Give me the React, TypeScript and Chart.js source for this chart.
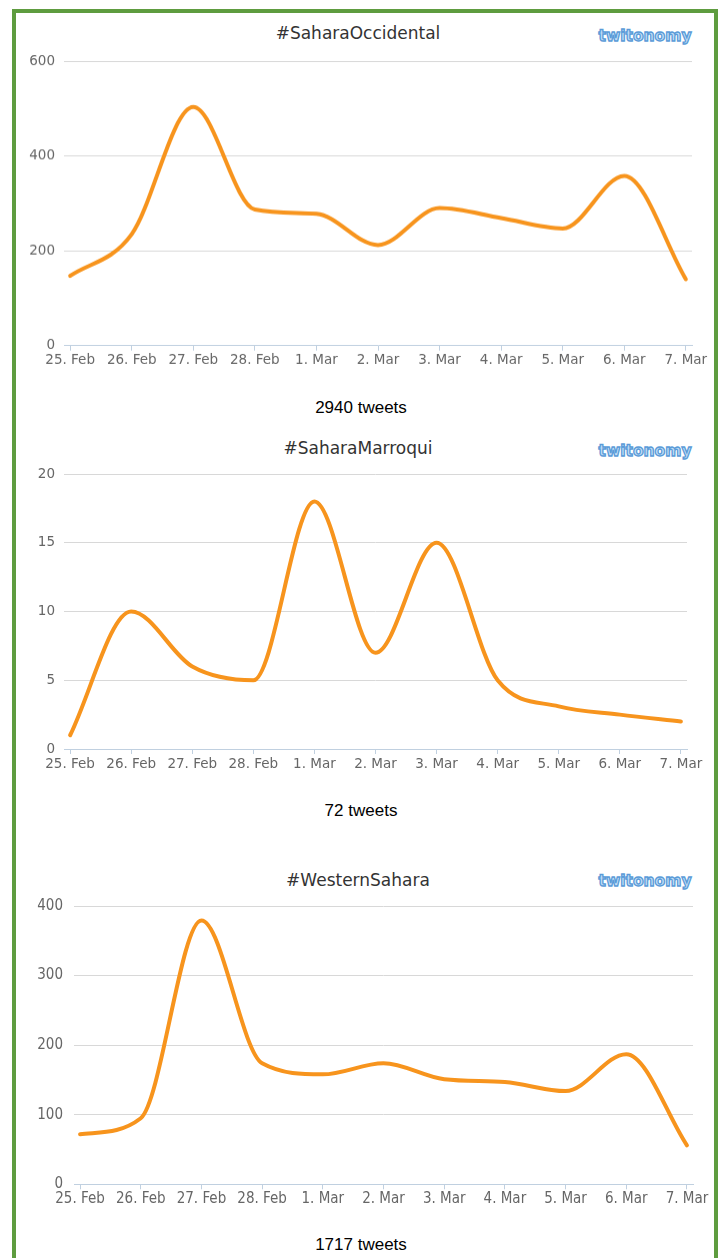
import React, { useEffect, useRef } from "react";
import { Chart, registerables } from "chart.js";

Chart.register(...registerables);

const categories = ["25. Feb", "26. Feb", "27. Feb", "28. Feb", "1. Mar", "2. Mar", "3. Mar", "4. Mar", "5. Mar", "6. Mar", "7. Mar"];
const saharaOccidental = [147, 235, 503, 287, 278, 212, 290, 269, 247, 358, 140];
const saharaMarroqui = [1, 10, 6, 5, 18, 7, 15, 5, 3.1, 2.5, 2];
const westernSahara = [72, 95, 379, 174, 158, 174, 151, 147, 134, 187, 56];

const titles = ["#SaharaOccidental", "#SaharaMarroqui", "#WesternSahara"];
const totals = ["2940 tweets", "72 tweets", "1717 tweets"];
const yMaxes = [600, 20, 400];
const ySteps = [200, 5, 100];

type Geo = { left: number; right: number; top: number; bottom: number; yPad: number; font: string; size: number; weight: string; xPad: number };

const PAD_TOP = 20;
const XH = 40;

function LineChart({ values, yMax, yStep, geo }: { values: number[]; yMax: number; yStep: number; geo: Geo }) {
  const ref = useRef<HTMLCanvasElement | null>(null);
  useEffect(() => {
    if (!ref.current) return;
    const font = { family: geo.font, size: geo.size, weight: geo.weight as any };
    const chart = new Chart(ref.current, {
      type: "line",
      data: {
        datasets: [
          {
            data: values.map((v, i) => ({ x: i, y: v })),
            borderColor: "#F7941D",
            borderWidth: 4,
            pointRadius: 0,
            fill: false,
            cubicInterpolationMode: "monotone",
            borderCapStyle: "round",
            borderJoinStyle: "round",
          },
        ],
      },
      options: {
        animation: false,
        responsive: true,
        maintainAspectRatio: false,
        layout: { padding: { top: PAD_TOP, left: 0, right: 720 - geo.right, bottom: 0 } },
        plugins: { legend: { display: false }, title: { display: false }, tooltip: { enabled: false } },
        scales: {
          x: {
            type: "linear",
            min: -0.1,
            max: 10.1,
            afterFit: (s: any) => {
              s.height = XH;
            },
            ticks: {
              stepSize: 1,
              includeBounds: false,
              autoSkip: false,
              maxRotation: 0,
              minRotation: 0,
              color: "#666",
              padding: geo.xPad,
              font,
              callback: (v: any) => (Number.isInteger(v) ? categories[v] : ""),
            },
            grid: { drawOnChartArea: false, drawTicks: true, tickLength: 5, color: "#C0D0E0" },
            border: { display: true, color: "#C0D0E0", width: 1 },
          },
          y: {
            min: 0,
            max: yMax,
            afterFit: (s: any) => {
              s.width = geo.left;
            },
            ticks: {
              stepSize: yStep,
              color: "#666",
              padding: geo.yPad,
              font,
            },
            grid: {
              drawTicks: false,
              color: (c: any) => (c.tick && c.tick.value === 0 ? "rgba(0,0,0,0)" : "#D8D8D8"),
            },
            border: { display: false },
          },
        },
      },
    });
    return () => chart.destroy();
  }, []);
  const h = geo.bottom - geo.top + PAD_TOP + XH;
  return (
    <div style={{ position: "absolute", left: 0, top: geo.top - PAD_TOP, width: 720, height: h }}>
      <canvas ref={ref} />
    </div>
  );
}

function Text({ x, y, children, style }: { x: number; y: number; children: any; style: any }) {
  return (
    <div
      style={{
        position: "absolute",
        left: x,
        top: y,
        transform: "translate(-50%, -50%)",
        whiteSpace: "nowrap",
        lineHeight: 1,
        ...style,
      }}
    >
      {children}
    </div>
  );
}

const normalFont = "'DejaVu Sans', sans-serif";

const geos: Geo[] = [
  { left: 64, right: 692, top: 61, bottom: 344.7, yPad: 9, font: normalFont, size: 13.5, weight: "normal", xPad: 2 },
  { left: 64, right: 687, top: 474.3, bottom: 749.3, yPad: 9, font: normalFont, size: 13.5, weight: "normal", xPad: 2 },
  { left: 74, right: 693, top: 905.7, bottom: 1184, yPad: 11, font: normalFont, size: 15, weight: "normal condensed", xPad: 1 },
];
const titleY = [33, 448, 880];
const totalY = [407, 810, 1244];
const logoY = [37, 452, 882];
const series = [saharaOccidental, saharaMarroqui, westernSahara];

export default function App() {
  return (
    <div style={{ position: "absolute", left: 0, top: 0, width: 720, height: 1258, background: "#fff", overflow: "hidden" }}>
      <div
        style={{
          position: "absolute",
          left: 12,
          top: 9,
          width: 698,
          height: 1300,
          border: "4px solid #5E9C3F",
        }}
      />
      {series.map((vals, i) => (
        <React.Fragment key={i}>
          <Text x={358} y={titleY[i]} style={{ fontFamily: normalFont, fontSize: 17, color: "#333" }}>
            {titles[i]}
          </Text>
          <Text
            x={645}
            y={logoY[i]}
            style={{
              fontFamily: normalFont,
              fontWeight: "bold",
              fontSize: 15.5,
              color: "#C4E0F7",
              WebkitTextStroke: "1.3px #5A9BD8",
              letterSpacing: "0px",
            }}
          >
            twitonomy
          </Text>
          <LineChart values={vals} yMax={yMaxes[i]} yStep={ySteps[i]} geo={geos[i]} />
          <Text x={361} y={totalY[i]} style={{ fontFamily: "'Liberation Sans', Arial, sans-serif", fontSize: 17, color: "#000" }}>
            {totals[i]}
          </Text>
        </React.Fragment>
      ))}
    </div>
  );
}
